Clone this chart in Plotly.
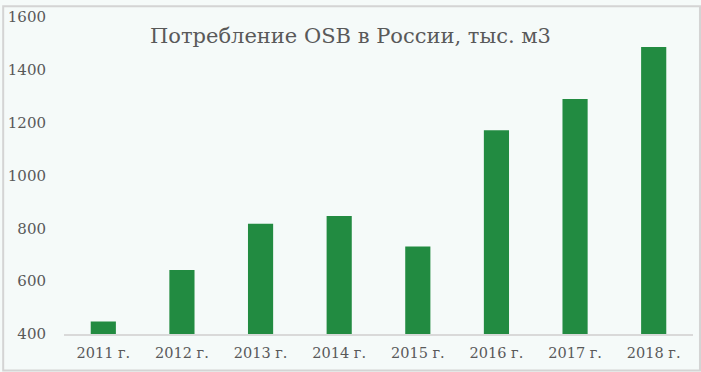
import plotly.graph_objects as go

years = ["2011 г.", "2012 г.", "2013 г.", "2014 г.", "2015 г.", "2016 г.", "2017 г.", "2018 г."]
consumption = [447, 642, 817, 847, 731, 1171, 1290, 1486]
y_ticks = [400, 600, 800, 1000, 1200, 1400, 1600]
title_text = "Потребление OSB в России, тыс. м3"

W, H = 701, 372
ml, mr, mt, mb = 62, 8, 12, 38
pw, ph = W - ml - mr, H - mt - mb

fig = go.Figure(go.Bar(x=years, y=consumption, marker_color="#228B41",
                       marker_line_width=0))

font_family = "DejaVu Serif"
fig.update_layout(
    width=W, height=H,
    margin=dict(l=ml, r=mr, t=mt, b=mb),
    paper_bgcolor="#F5FAF9", plot_bgcolor="#F5FAF9",
    bargap=0.68,
    showlegend=False,
    title=dict(text=title_text, xref="container", x=0.5, xanchor="center",
               yref="container", y=1 - 36 / H, yanchor="middle",
               font=dict(family=font_family, size=21, color="#595959")),
    font=dict(family=font_family, color="#595959"),
)
fig.update_yaxes(range=[400, 1600], tickvals=y_ticks, showgrid=False, zeroline=False,
                 ticks="outside", ticklen=14, tickcolor="rgba(0,0,0,0)",
                 tickfont=dict(size=15, family=font_family, color="#595959"))
fig.update_xaxes(showline=True, linecolor="#D9D9D9", linewidth=2, showgrid=False,
                 ticks="outside", ticklen=5, tickcolor="rgba(0,0,0,0)",
                 tickfont=dict(size=14.5, family=font_family, color="#595959"))
fig.add_shape(type="rect", xref="paper", yref="paper",
              x0=-(ml - 1) / pw, x1=1 + (mr - 1) / pw,
              y0=-(mb - 1) / ph, y1=1 + (mt - 1) / ph,
              line=dict(color="#D4D4D4", width=2), layer="below")
fig.write_html("out.html")
